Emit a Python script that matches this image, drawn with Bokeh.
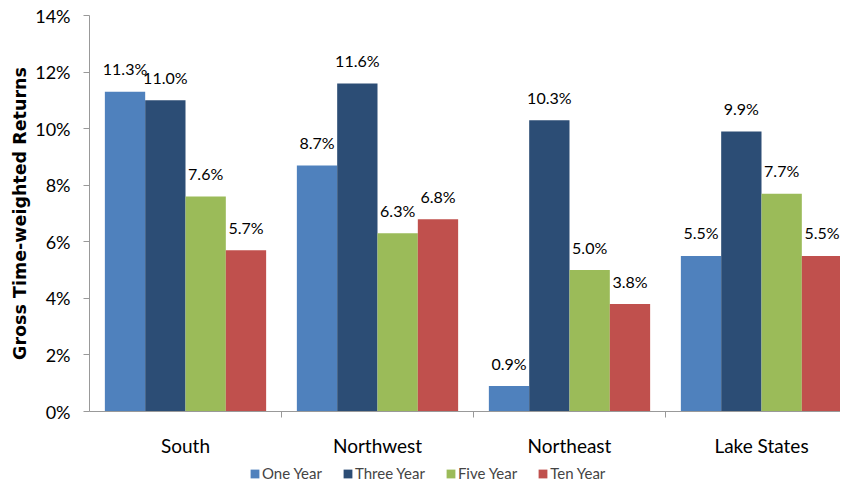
from bokeh.plotting import figure
from bokeh.layouts import column
from bokeh.models import ColumnDataSource, FixedTicker, Legend, LegendItem, PrintfTickFormatter
from bokeh.core.properties import value
from bokeh.embed import file_html
from bokeh.resources import INLINE

regions = ["South", "Northwest", "Northeast", "Lake States"]
series = ["One Year", "Three Year", "Five Year", "Ten Year"]
colors = ["#4F81BD", "#2C4D75", "#9BBB59", "#C0504D"]
one_year = [11.3, 8.7, 0.9, 5.5]
three_year = [11.0, 11.6, 10.3, 9.9]
five_year = [7.6, 6.3, 5.0, 7.7]
ten_year = [5.7, 6.8, 3.8, 5.5]
y_ticks = [0, 2, 4, 6, 8, 10, 12, 14]

FONT = "Lato"
bw = 0.21
W = 840

p = figure(width=W, height=460, output_backend="svg", toolbar_location=None,
           x_range=(0, (W - 89) / 192), y_range=(0, 14), min_border_left=89, min_border_top=15,
           min_border_right=0, min_border_bottom=49)
p.outline_line_color = None
p.xgrid.visible = False
p.ygrid.visible = False

for j, (name, vals) in enumerate(zip(series, [one_year, three_year, five_year, ten_year])):
    xs = [i + 0.5 + (j - 1.5) * bw for i in range(len(regions))]
    src = ColumnDataSource(dict(x=xs, top=vals, lab=[f"{v:.1f}%" for v in vals]))
    p.vbar(x="x", top="top", width=bw, source=src, fill_color=colors[j], line_color=None)
    p.text(x="x", y="top", text="lab", source=src, text_align="center", text_baseline="middle",
           y_offset=-23, text_font=value(FONT), text_font_size="16px", text_color="#000000")

p.yaxis.ticker = FixedTicker(ticks=y_ticks)
p.yaxis.formatter = PrintfTickFormatter(format="%d%%")
p.yaxis.axis_label = "Gross Time-weighted Returns"
p.yaxis.axis_label_text_font = "DejaVu Sans"
p.yaxis.axis_label_text_font_style = "bold"
p.yaxis.axis_label_text_font_size = "17.5px"
p.yaxis.axis_label_text_color = "#000000"
p.yaxis.axis_label_standoff = 2
p.yaxis.major_label_text_font = FONT
p.yaxis.major_label_text_font_size = "18px"
p.yaxis.major_label_text_color = "#000000"
p.yaxis.axis_line_color = "#999999"
p.yaxis.major_tick_line_color = "#999999"
p.yaxis.major_tick_out = 6
p.yaxis.major_tick_in = 0
p.yaxis.minor_tick_line_color = None
p.yaxis.major_label_standoff = 13

p.xaxis.ticker = FixedTicker(ticks=[i + 0.5 for i in range(len(regions))], minor_ticks=[1, 2, 3])
p.xaxis.major_label_overrides = {i + 0.5: r for i, r in enumerate(regions)}
p.xaxis.major_label_text_font = FONT
p.xaxis.major_label_text_font_size = "19px"
p.xaxis.major_label_text_color = "#000000"
p.xaxis.axis_line_color = "#999999"
p.xaxis.major_tick_out = 0
p.xaxis.major_tick_in = 0
p.xaxis.minor_tick_out = 6
p.xaxis.minor_tick_in = 0
p.xaxis.minor_tick_line_color = "#999999"
p.xaxis.major_label_standoff = 16

# legend strip
p2 = figure(width=W, height=25, output_backend="svg", toolbar_location=None,
            x_range=(0, 1), y_range=(0, 1), min_border=0)
p2.outline_line_color = None
p2.axis.visible = False
p2.grid.visible = False
items = []
for name, c in zip(series, colors):
    r = p2.vbar(x=[0.5], top=[0], width=0.01, fill_color=c, line_color=None)
    items.append(LegendItem(label=name, renderers=[r]))
legend = Legend(items=items, orientation="horizontal", location=(160, 3),
                label_text_font=FONT, label_text_font_size="15px",
                glyph_width=11, glyph_height=11, label_standoff=2, spacing=20,
                padding=0, margin=0, border_line_color=None, background_fill_alpha=0)
p2.add_layout(legend, "center")

layout = column(p, p2, spacing=0)
open("out.html", "w").write(file_html(layout, INLINE))
